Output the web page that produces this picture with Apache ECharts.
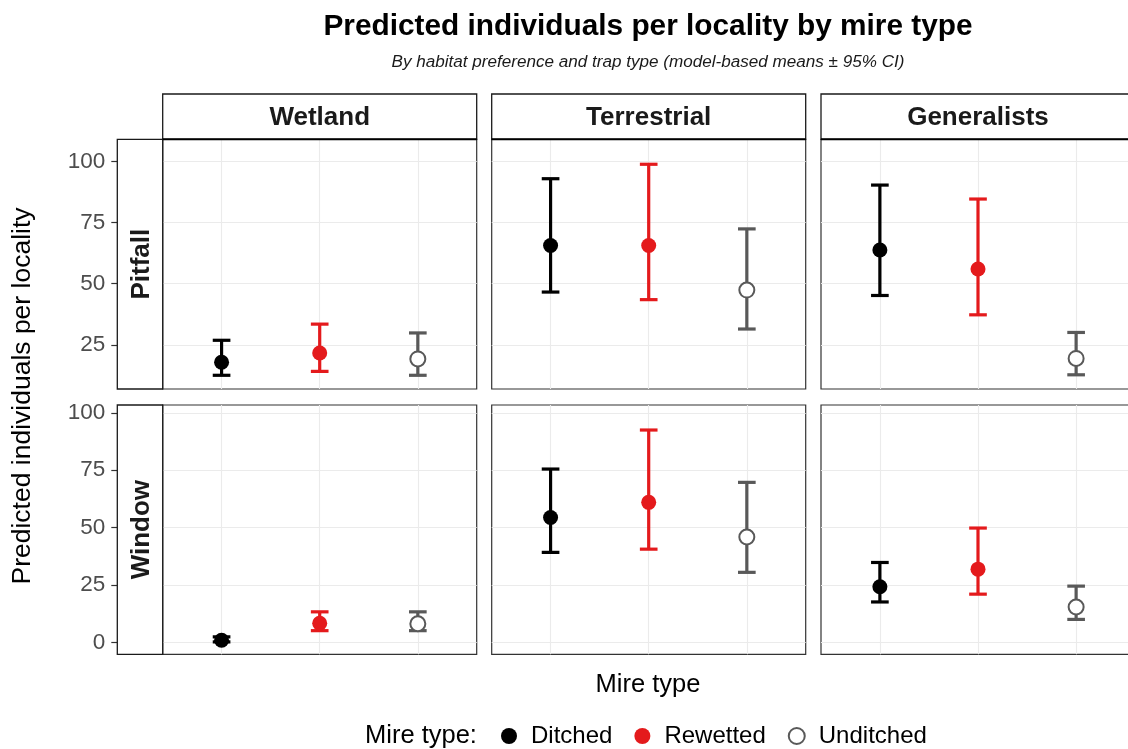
<!DOCTYPE html>
<html>
<head>
<meta charset="utf-8">
<script src="https://cdn.jsdelivr.net/npm/echarts@6/dist/echarts.min.js"></script>
<style>
html,body{margin:0;padding:0;background:#fff;}
#main{width:1128px;height:749px;}
</style>
</head>
<body>
<div id="main"></div>
<script>
// ---------------- DATA ----------------
const mireTypes = ['Ditched', 'Rewetted', 'Unditched'];
const habitats = ['Wetland', 'Terrestrial', 'Generalists'];
const trapTypes = ['Pitfall', 'Window'];
const yTicks = [0, 25, 50, 75, 100];

// rows = habitats (Wetland, Terrestrial, Generalists); columns = mire types
const pitfallMean  = [[17.9, 21.7, 19.3], [65.6, 65.6, 47.4], [63.8, 56.0, 19.5]];
const pitfallLower = [[12.6, 14.2, 12.6], [46.6, 43.5, 31.5], [45.2, 37.3, 12.8]];
const pitfallUpper = [[26.9, 33.5, 29.9], [92.9, 98.8, 72.4], [90.3, 84.6, 30.1]];

const windowMean  = [[0.9, 8.3, 8.1], [54.4, 61.0, 45.9], [24.2, 31.9, 15.4]];
const windowLower = [[0.2, 5.1, 5.1], [39.2, 40.6, 30.5], [17.6, 21.0, 10.0]];
const windowUpper = [[2.4, 13.3, 13.3], [75.5, 92.5, 69.7], [34.8, 49.8, 24.5]];

// ---------------- LAYOUT / STYLE ----------------
const FONT = "'Liberation Sans', Arial, Helvetica, sans-serif";
const colLeft = [162.7, 491.7, 821];
const panelW = 314;
const rowTop = [139.3, 405];
const rowH = [249.7, 249.3];
const yRange = [[7.0, 109.0], [-5.2, 103.4]];
const colors = ['#000000', '#E41A1C', '#595959'];
const fills = ['#000000', '#E41A1C', '#FFFFFF'];
const capHalf = 0.09;

const rowMean = [pitfallMean, windowMean];
const rowLower = [pitfallLower, windowLower];
const rowUpper = [pitfallUpper, windowUpper];

const grids = [], xAxes = [], yAxes = [], series = [];
let gi = 0;
for (let r = 0; r < trapTypes.length; r++) {
  for (let c = 0; c < habitats.length; c++) {
    grids.push({
      left: colLeft[c], top: rowTop[r], width: panelW, height: rowH[r],
      outerBoundsMode: 'none', containLabel: false,
      show: true, borderColor: '#333333', borderWidth: 1.2, backgroundColor: '#FFFFFF'
    });
    xAxes.push({
      gridIndex: gi, type: 'value', min: 0.4, max: 3.6,
      axisLine: { show: false }, axisLabel: { show: false },
      axisTick: { show: false, customValues: [1, 2, 3] },
      splitLine: { show: true, lineStyle: { color: '#EBEBEB', width: 1.1 } }
    });
    const ticks = yTicks.filter(v => v >= yRange[r][0] && v <= yRange[r][1]);
    yAxes.push({
      gridIndex: gi, type: 'value', min: yRange[r][0], max: yRange[r][1],
      position: 'left', offset: c === 0 ? 45.4 : 0,
      axisLine: { show: false },
      axisTick: { show: c === 0, length: 6, lineStyle: { color: '#333333', width: 1.2 }, customValues: ticks },
      axisLabel: { show: c === 0, customValues: ticks, margin: 12, color: '#4D4D4D', fontSize: 22.5, fontFamily: FONT },
      splitLine: { show: true, lineStyle: { color: '#EBEBEB', width: 1.1 } }
    });
    for (let k = 0; k < mireTypes.length; k++) {
      const col = colors[k];
      series.push({
        type: 'custom', name: 'ci-' + mireTypes[k], xAxisIndex: gi, yAxisIndex: gi, z: 2,
        silent: true, clip: false,
        encode: { x: 0, y: [1, 2] },
        data: [[k + 1, rowLower[r][c][k], rowUpper[r][c][k]]],
        renderItem: function (params, api) {
          const x = api.value(0), lo = api.value(1), hi = api.value(2);
          const pLo = api.coord([x, lo]);
          const pHi = api.coord([x, hi]);
          const xl = api.coord([x - capHalf, hi])[0];
          const xr = api.coord([x + capHalf, hi])[0];
          const st = { stroke: col, lineWidth: 3.2, fill: null };
          return {
            type: 'group', children: [
              { type: 'line', shape: { x1: pLo[0], y1: pLo[1], x2: pHi[0], y2: pHi[1] }, style: st },
              { type: 'line', shape: { x1: xl, y1: pHi[1], x2: xr, y2: pHi[1] }, style: st },
              { type: 'line', shape: { x1: xl, y1: pLo[1], x2: xr, y2: pLo[1] }, style: st }
            ]
          };
        }
      });
      series.push({
        type: 'scatter', name: mireTypes[k], xAxisIndex: gi, yAxisIndex: gi, z: 3,
        symbol: 'circle', symbolSize: 15,
        itemStyle: { color: fills[k], borderColor: colors[k], borderWidth: k === 2 ? 2 : 0, opacity: 1 },
        data: [[k + 1, rowMean[r][c][k]]]
      });
    }
    gi++;
  }
}

// graphics: strips, titles
const graphics = [];
habitats.forEach((h, c) => {
  graphics.push({ type: 'rect', z: 50, shape: { x: colLeft[c], y: 94, width: panelW, height: 45.3 },
    style: { fill: '#FFFFFF', stroke: '#1A1A1A', lineWidth: 1.3 } });
  graphics.push({ type: 'line', z: 51, shape: { x1: colLeft[c], y1: 139.3, x2: colLeft[c] + panelW, y2: 139.3 },
    style: { stroke: '#000000', lineWidth: 2 } });
  graphics.push({ type: 'text', z: 51, x: colLeft[c] + panelW / 2, y: 117.5,
    style: { text: h, font: 'bold 26px ' + FONT, fill: '#1A1A1A', textAlign: 'center', textVerticalAlign: 'middle' } });
});
trapTypes.forEach((t, r) => {
  graphics.push({ type: 'rect', z: 50, shape: { x: 117.3, y: rowTop[r], width: 45.4, height: rowH[r] },
    style: { fill: '#FFFFFF', stroke: '#1A1A1A', lineWidth: 1.3 } });
  graphics.push({ type: 'text', z: 51, x: 142, y: rowTop[r] + rowH[r] / 2, rotation: Math.PI / 2,
    style: { text: t, font: 'bold 26px ' + FONT, fill: '#1A1A1A', textAlign: 'center', textVerticalAlign: 'middle' } });
});
graphics.push({ type: 'text', x: 648, y: 27, style: { text: 'Predicted individuals per locality by mire type',
  font: 'bold 29.8px ' + FONT, fill: '#000000', textAlign: 'center', textVerticalAlign: 'middle' } });
graphics.push({ type: 'text', x: 648, y: 62, style: { text: 'By habitat preference and trap type (model-based means ± 95% CI)',
  font: 'italic 17.1px ' + FONT, fill: '#1A1A1A', textAlign: 'center', textVerticalAlign: 'middle' } });
graphics.push({ type: 'text', x: 23, y: 396, rotation: Math.PI / 2, style: { text: 'Predicted individuals per locality',
  font: '26.5px ' + FONT, fill: '#000000', textAlign: 'center', textVerticalAlign: 'middle' } });
graphics.push({ type: 'text', x: 648, y: 685, style: { text: 'Mire type',
  font: '25.5px ' + FONT, fill: '#000000', textAlign: 'center', textVerticalAlign: 'middle' } });
graphics.push({ type: 'text', x: 365, y: 736, style: { text: 'Mire type:',
  font: '25.5px ' + FONT, fill: '#000000', textAlign: 'left', textVerticalAlign: 'middle' } });

const option = {
  animation: false,
  backgroundColor: '#FFFFFF',
  grid: grids,
  xAxis: xAxes,
  yAxis: yAxes,
  series: series,
  legend: {
    left: 496, top: 719, orient: 'horizontal',
    itemWidth: 16, itemHeight: 16, itemGap: 22, selectedMode: false,
    textStyle: { fontSize: 24, color: '#000000', fontFamily: FONT, padding: [0, 0, 0, 9] },
    data: mireTypes.map(m => ({ name: m, icon: 'circle' }))
  },
  graphic: { elements: graphics }
};
const chart = echarts.init(document.getElementById('main'));
chart.setOption(option);
</script>
</body>
</html>
